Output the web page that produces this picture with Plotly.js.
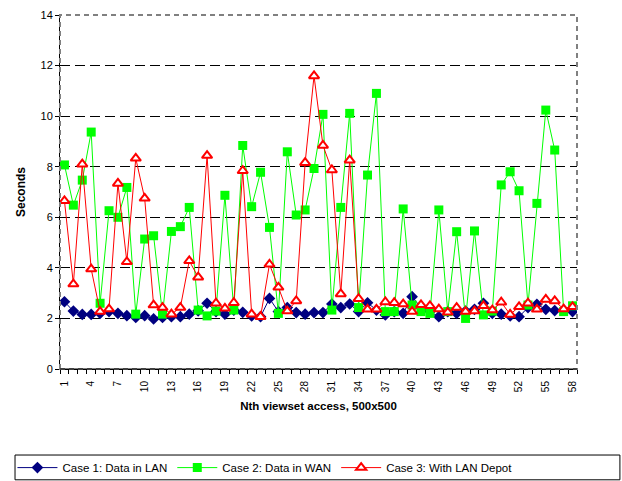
<!DOCTYPE html>
<html><head><meta charset="utf-8">
<script src="https://cdn.plot.ly/plotly-3.0.1.min.js"></script>
<style>html,body{margin:0;padding:0;background:#fff}#chart{width:622px;height:481px}</style>
</head><body><div id="chart"></div>
<script>
const access = Array.from({length: 58}, (_, i) => i + 1);
const tickValues = [1,4,7,10,13,16,19,22,25,28,31,34,37,40,43,46,49,52,55,58];
const caseLan = [2.66,2.29,2.16,2.16,2.20,2.27,2.20,2.11,2.04,2.11,1.98,2.04,2.07,2.07,2.17,2.30,
  2.60,2.27,2.17,2.33,2.24,2.10,2.07,2.79,2.27,2.43,2.23,2.17,2.23,2.23,2.57,2.43,
  2.57,2.27,2.62,2.33,2.14,2.27,2.20,2.86,2.43,2.27,2.07,2.27,2.20,2.29,2.36,
  2.60,2.20,2.17,2.10,2.07,2.43,2.56,2.36,2.31,2.33,2.27];
const caseWan = [8.07,6.48,7.47,9.37,2.60,6.26,6.00,7.18,2.17,5.14,5.27,2.17,5.44,5.63,6.39,2.33,
  2.10,2.29,6.87,2.33,8.84,6.42,7.78,5.60,2.20,8.59,6.09,6.29,7.93,10.07,2.33,6.39,
  10.11,2.43,7.67,10.90,2.27,2.27,6.33,2.53,2.27,2.20,6.29,2.27,5.43,2.00,5.46,
  2.14,2.29,7.28,7.80,7.05,2.53,6.55,10.24,8.66,2.27,2.50];
const caseDepot = [6.65,3.36,8.10,3.95,2.27,2.37,7.34,4.24,8.33,6.75,2.53,2.43,2.17,2.43,4.28,3.63,
  8.44,2.60,2.40,2.62,7.84,2.17,2.07,4.14,3.23,2.29,2.69,8.16,11.59,8.84,7.87,2.97,
  8.26,2.78,2.36,2.36,2.65,2.62,2.57,2.27,2.54,2.50,2.37,2.24,2.43,2.27,2.29,
  2.50,2.33,2.64,2.16,2.46,2.60,2.36,2.75,2.69,2.37,2.46];

const traces = [
  {x: access, y: caseLan, name: 'Case 1: Data in LAN', mode: 'lines+markers', type: 'scatter',
   line: {color: '#000080', width: 1}, marker: {symbol: 'diamond', size: 9, color: '#000080'}},
  {x: access, y: caseWan, name: 'Case 2: Data in WAN', mode: 'lines+markers', type: 'scatter',
   line: {color: '#00FF00', width: 1}, marker: {symbol: 'square', size: 9, color: '#00FF00'}},
  {x: access, y: caseDepot, name: 'Case 3: With LAN Depot', mode: 'lines+markers', type: 'scatter',
   line: {color: '#FF0000', width: 1}, marker: {symbol: 'triangle-up', size: 9, color: '#FFFFFF', line: {color: '#FF0000', width: 2}}}
];

const layout = {
  width: 622, height: 481,
  margin: {l: 60, r: 45, t: 15, b: 112, autoexpand: false},
  paper_bgcolor: '#fff', plot_bgcolor: '#fff',
  font: {family: 'Liberation Sans, Arial, sans-serif', size: 10, color: '#000'},
  showlegend: true,
  legend: {orientation: 'h', xref: 'container', yref: 'container', x: 0.02, xanchor: 'left',
    y: 0.058, yanchor: 'top',
    font: {size: 11.5}, bgcolor: 'rgba(0,0,0,0)', borderwidth: 0, itemwidth: 40},
  xaxis: {range: [0.5, 58.5], tickmode: 'array', tickvals: tickValues, ticks: '',
    tickangle: -90, automargin: false, ticklabelstandoff: 7,
    showgrid: false, zeroline: false, showline: true, linecolor: '#000', linewidth: 1,
    tickfont: {size: 10},
    minor: {tickmode: 'linear', tick0: 0.5, dtick: 1, ticks: 'outside', ticklen: 4, tickcolor: '#000', showgrid: false},
    title: {text: '<b>Nth viewset access, 500x500</b>', font: {size: 11.5}, standoff: 10}},
  yaxis: {range: [0, 14], dtick: 2, ticks: 'outside', ticklen: 4, tickcolor: '#000', automargin: false,
    showgrid: true, gridcolor: '#000', griddash: '10px,5px', gridwidth: 1,
    zeroline: false, showline: true, linecolor: '#000', linewidth: 1,
    tickfont: {size: 11},
    title: {text: '<b>Seconds</b>', font: {size: 12}, standoff: 12}},
  shapes: [
    {type: 'rect', xref: 'paper', yref: 'paper', x0: 0, x1: 1, y0: 0, y1: 1,
     line: {color: '#808080', width: 2, dash: '5px,4px'}, layer: 'above'},
    {type: 'line', xref: 'paper', yref: 'paper', x0: 0, x1: 1, y0: 0, y1: 0,
     line: {color: '#000', width: 1}, layer: 'above'},
    {type: 'rect', xref: 'paper', yref: 'paper', x0: -0.087, x1: 1.083, y0: -0.243, y1: -0.313,
     line: {color: '#000', width: 1}}
  ]
};
Plotly.newPlot('chart', traces, layout, {staticPlot: true, displayModeBar: false});
</script></body></html>
